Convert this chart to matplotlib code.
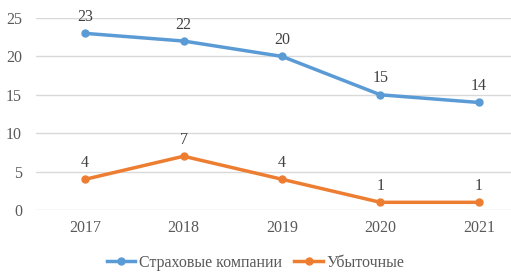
import matplotlib
matplotlib.use("Agg")
import matplotlib.pyplot as plt

years = ["2017", "2018", "2019", "2020", "2021"]
insurers = [23, 22, 20, 15, 14]
loss_making = [4, 7, 4, 1, 1]
series_names = ["Страховые компании", "Убыточные"]
yticks = [0, 5, 10, 15, 20, 25]

plt.rcParams['font.family'] = ['Liberation Serif', 'DejaVu Serif']
FS = 11.5

fig = plt.figure(figsize=(5.11, 2.76), dpi=100)
ax = fig.add_axes([36/511, 66/276, (528-36)/511, (210-18)/276])

x = list(range(len(years)))
blue = "#5B9BD5"
orange = "#ED7D31"
l1, = ax.plot(x, insurers, color=blue, lw=2.5, marker="o", ms=5, label=series_names[0])
l2, = ax.plot(x, loss_making, color=orange, lw=2.5, marker="o", ms=5, label=series_names[1])

for xi, v in zip(x, insurers):
    ax.annotate(str(v), (xi, v), xytext=(0, 6), textcoords="offset points",
                ha="center", va="bottom", fontsize=FS, color="#404040")
for xi, v in zip(x, loss_making):
    ax.annotate(str(v), (xi, v), xytext=(0, 6), textcoords="offset points",
                ha="center", va="bottom", fontsize=FS, color="#404040")

ax.set_xlim(-0.5, 4.5)
ax.set_ylim(0, 25)
ax.set_yticks(yticks)
ax.set_xticks(x)
ax.set_xticklabels(years)
ax.tick_params(axis="both", length=0, labelsize=FS, colors="#595959")
ax.tick_params(axis="x", pad=7)
ax.tick_params(axis="y", pad=10)
ax.grid(axis="y", color="#D9D9D9", lw=1)
ax.set_axisbelow(True)
for s in ax.spines.values():
    s.set_visible(False)

fig.legend(handles=[l1, l2], loc="center", bbox_to_anchor=(0.5, 13/276), ncol=2,
           frameon=False, fontsize=FS, handlelength=1.8, columnspacing=0.8,
           labelcolor="#595959", handletextpad=0.2)

fig.savefig("out.png", dpi=100)
